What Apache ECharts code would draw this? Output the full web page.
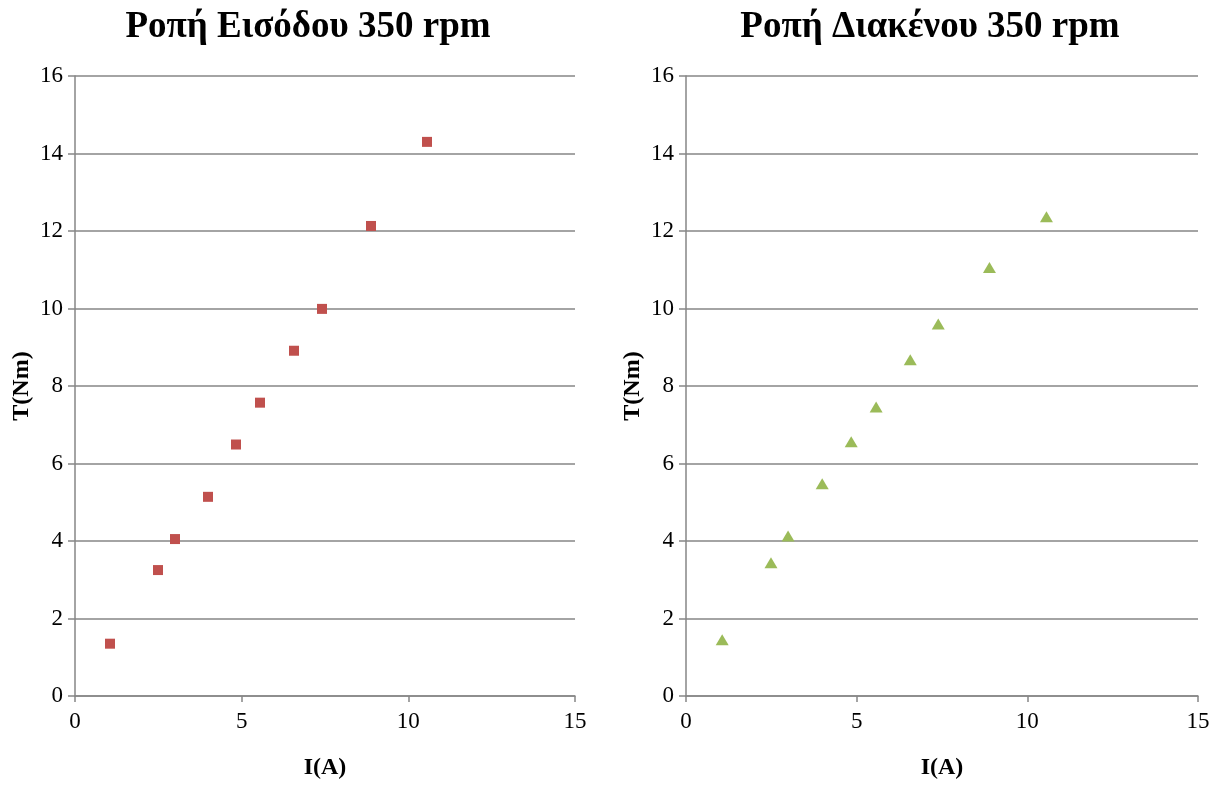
<!DOCTYPE html>
<html>
<head>
<meta charset="utf-8">
<script src="https://cdn.jsdelivr.net/npm/echarts@6/dist/echarts.min.js"></script>
<style>
html, body { margin: 0; padding: 0; background: #fff; }
#main { width: 1218px; height: 785px; }
</style>
</head>
<body>
<div id="main"></div>
<script>
// Ροπή Εισόδου 350 rpm
var inputI = [1.05, 2.49, 3.0, 3.99, 4.83, 5.55, 6.57, 7.41, 8.88, 10.56];
var inputT = [1.35, 3.25, 4.05, 5.14, 6.49, 7.57, 8.91, 9.99, 12.13, 14.3];
// Ροπή Διακένου 350 rpm
var gapI = [1.06, 2.49, 2.99, 3.99, 4.84, 5.57, 6.57, 7.39, 8.89, 10.56];
var gapT = [1.45, 3.44, 4.13, 5.48, 6.56, 7.46, 8.68, 9.6, 11.06, 12.37];

var titles = ['Ροπή Εισόδου 350 rpm', 'Ροπή Διακένου 350 rpm'];

function pairs(xs, ys) {
    var out = [];
    for (var i = 0; i < xs.length; i++) {
        out.push([xs[i], ys[i]]);
    }
    return out;
}

var font = '"Liberation Serif", "Times New Roman", serif';
var gray = '#868686';

function xAxisOf(idx) {
    return {
        gridIndex: idx,
        type: 'value',
        min: 0, max: 15, interval: 5,
        name: 'I(A)',
        nameLocation: 'middle',
        nameGap: 60,
        nameTextStyle: { fontFamily: font, fontSize: 24, fontWeight: 'bold', color: '#000' },
        axisLine: { show: true, lineStyle: { color: gray, width: 1.5 } },
        axisTick: { show: true, length: 6, lineStyle: { color: gray, width: 1.5 } },
        axisLabel: { fontFamily: font, fontSize: 23, color: '#000', margin: 14 },
        splitLine: { show: false }
    };
}

function yAxisOf(idx) {
    return {
        gridIndex: idx,
        type: 'value',
        min: 0, max: 16, interval: 2,
        name: 'T(Nm)',
        nameLocation: 'middle',
        nameGap: 41,
        nameTextStyle: { fontFamily: font, fontSize: 24, fontWeight: 'bold', color: '#000' },
        axisLine: { show: true, lineStyle: { color: gray, width: 1.5 } },
        axisTick: { show: true, length: 7, lineStyle: { color: gray, width: 1.5 } },
        axisLabel: { fontFamily: font, fontSize: 23, color: '#000', margin: 12 },
        splitLine: { show: true, lineStyle: { color: gray, width: 1.5 } }
    };
}

var myChart = echarts.init(document.getElementById('main'));
myChart.setOption({
    backgroundColor: '#fff',
    animation: false,
    title: [
        {
            text: titles[0], left: 303, top: 4, textAlign: 'center',
            textStyle: { fontFamily: font, fontSize: 37, fontWeight: 'bold', color: '#000' }
        },
        {
            text: titles[1], left: 925, top: 4, textAlign: 'center',
            textStyle: { fontFamily: font, fontSize: 37, fontWeight: 'bold', color: '#000' }
        }
    ],
    grid: [
        { left: 75, top: 76, width: 500, height: 621 },
        { left: 686, top: 76, width: 512, height: 621 }
    ],
    xAxis: [xAxisOf(0), xAxisOf(1)],
    yAxis: [yAxisOf(0), yAxisOf(1)],
    series: [
        {
            type: 'scatter',
            xAxisIndex: 0, yAxisIndex: 0,
            symbol: 'rect',
            symbolSize: 10,
            itemStyle: { color: '#C0504D', opacity: 1 },
            data: pairs(inputI, inputT)
        },
        {
            type: 'scatter',
            xAxisIndex: 1, yAxisIndex: 1,
            symbol: 'triangle',
            symbolSize: [13, 11],
            itemStyle: { color: '#9BBB59', opacity: 1 },
            data: pairs(gapI, gapT)
        }
    ]
});
</script>
</body>
</html>
